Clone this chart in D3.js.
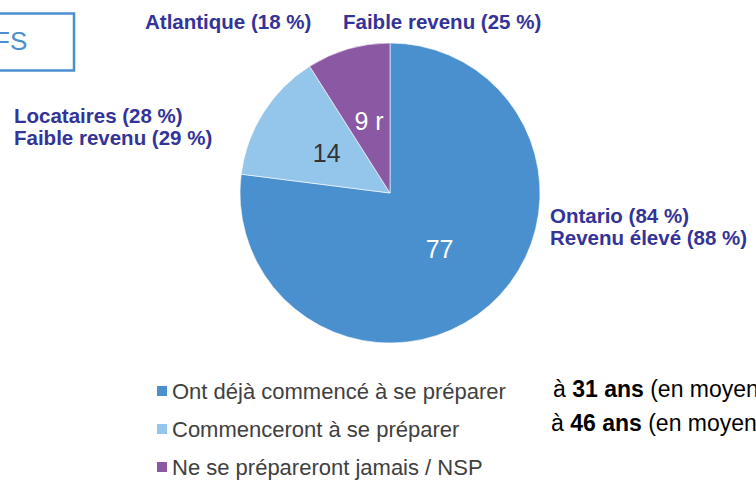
<!DOCTYPE html>
<html>
<head>
<meta charset="utf-8">
<script src="https://cdn.jsdelivr.net/npm/d3@7"></script>
<style>
  body { margin: 0; background: #fff; overflow: hidden; }
  svg { font-family: "Liberation Sans", Arial, sans-serif; display: block; }
  .callout { font-weight: bold; font-size: 20.5px; fill: #333399; }
  .legend text { font-size: 22px; fill: #404040; }
  .age { font-size: 23px; fill: #000; }
</style>
</head>
<body>
<div id="chart"></div>
<script>
var width = 756, height = 480;

// slices, clockwise from 12 o'clock
var categories = ["Ont déjà commencé à se préparer", "Commenceront à se préparer", "Ne se prépareront jamais / NSP"];
var values = [77, 14, 9];
var sliceLabels = ["77", "14", "9 r"];
var colors = ["#4a90ce", "#93c6ea", "#8b58a3"];
var labelColors = ["#fff", "#333", "#fff"];

// callouts around the pie
var callouts = [
  { lines: ["Atlantique (18 %)"], x: 145, y: 29 },
  { lines: ["Faible revenu (25 %)"], x: 343, y: 29 },
  { lines: ["Locataires (28 %)", "Faible revenu (29 %)"], x: 14, y: 123 },
  { lines: ["Ontario (84 %)", "Revenu élevé (88 %)"], x: 550, y: 223 }
];
var ages = [["à ", "31 ans", " (en moyenne)"], ["à ", "46 ans", " (en moyenne)"]];

var cx = 390, cy = 193, radius = 150;

var svg = d3.select("#chart").append("svg")
  .attr("width", width)
  .attr("height", height);

// box in the top left corner, cut by the edge
svg.append("rect")
  .attr("x", -6)
  .attr("y", 13.5)
  .attr("width", 80)
  .attr("height", 57)
  .attr("fill", "#fff")
  .attr("stroke", "#4a90ce")
  .attr("stroke-width", 2.5);

svg.append("text")
  .attr("x", -6)
  .attr("y", 50)
  .attr("font-size", "26px")
  .attr("fill", "#4a90ce")
  .text("FS");

var pie = d3.pie().sort(null).value(function(d) { return d; });
var arc = d3.arc().innerRadius(0).outerRadius(radius);
var labelArc = d3.arc().innerRadius(75).outerRadius(75);

var g = svg.append("g")
  .attr("transform", "translate(" + cx + "," + cy + ")");

var arcs = pie(values);

g.selectAll(".slice")
  .data(arcs)
  .enter().append("path")
    .attr("class", "slice")
    .attr("d", arc)
    .attr("fill", function(d, i) { return colors[i]; })
    .attr("stroke", "#fff")
    .attr("stroke-width", 0.6);

g.selectAll(".val")
  .data(arcs)
  .enter().append("text")
    .attr("class", "val")
    .attr("transform", function(d) { return "translate(" + labelArc.centroid(d) + ")"; })
    .attr("text-anchor", "middle")
    .attr("dy", "0.36em")
    .attr("font-size", "25px")
    .attr("fill", function(d, i) { return labelColors[i]; })
    .text(function(d, i) { return sliceLabels[i]; });

svg.selectAll(".callout")
  .data(callouts)
  .enter().append("text")
    .attr("class", "callout")
    .attr("x", function(d) { return d.x; })
    .attr("y", function(d) { return d.y; })
  .selectAll("tspan")
    .data(function(d) { return d.lines.map(function(l) { return { t: l, x: d.x }; }); })
  .enter().append("tspan")
    .attr("x", function(d) { return d.x; })
    .attr("dy", function(d, i) { return i ? 22 : 0; })
    .text(function(d) { return d.t; });

// legend
var legend = svg.append("g")
    .attr("class", "legend")
    .attr("transform", "translate(157,391)")
  .selectAll("g")
    .data(categories)
  .enter().append("g")
    .attr("transform", function(d, i) { return "translate(0," + (i * 38) + ")"; });

legend.append("rect")
  .attr("x", 0)
  .attr("y", -5)
  .attr("width", 10)
  .attr("height", 10)
  .attr("fill", function(d, i) { return colors[i]; });

legend.append("text")
  .attr("x", 15)
  .attr("dy", "0.36em")
  .text(function(d) { return d; });

// average ages
var ageText = svg.selectAll(".age")
  .data(ages)
  .enter().append("text")
    .attr("class", "age")
    .attr("x", function(d, i) { return i ? 551 : 553; })
    .attr("y", function(d, i) { return 397 + i * 34; });

ageText.selectAll("tspan")
  .data(function(d) { return d; })
  .enter().append("tspan")
    .attr("font-weight", function(d, i) { return i === 1 ? "bold" : null; })
    .text(function(d) { return d; });
</script>
</body>
</html>
